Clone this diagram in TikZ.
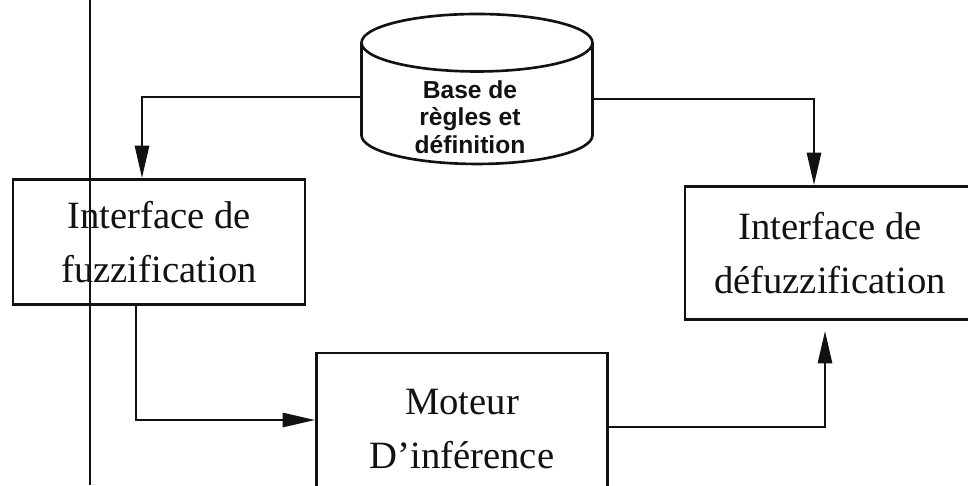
\documentclass[tikz,border=0pt]{standalone}
\usepackage{fontspec}
\setmainfont{Liberation Serif}
\newfontfamily\fzsans{Liberation Sans}
\usetikzlibrary{arrows.meta,positioning,shapes.geometric}
\definecolor{FzInk}{RGB}{18,18,18}
\tikzset{
  fz/box/.style={
    draw=FzInk,
    line width=1.5pt,
    fill=white,
    align=center,
    text=FzInk,
    inner sep=0pt,
    font=\fontsize{22}{31}\selectfont
  },
  fz/db/.style={
    cylinder,
    shape border rotate=90,
    aspect=0.5,
    draw=FzInk,
    line width=1.5pt,
    fill=white,
    inner sep=0pt,
    minimum height=3cm,
    minimum width=4.62cm
  },
  fz/dbtext/.style={
    align=center,
    text=FzInk,
    inner sep=0pt,
    font=\fzsans\bfseries\fontsize{14}{15.5}\selectfont
  },
  fz/arrow/.style={-{Triangle[length=6.5mm,width=2.8mm]}, line width=1.6pt, draw=FzInk},
  fz/scan/.style={line width=1.1pt, draw=FzInk}
}

\begin{document}
\begin{tikzpicture}[x=0.02cm,y=-0.02cm]
  \useasboundingbox (0,0) rectangle (968,485);
  \node[fz/db] (rules) at (477,104) {\hspace*{2.3cm}};
  \node[fz/dbtext] (rulestext) at (470,117) {Base de\\règles et\\définition};
  \node[fz/box,minimum width=5.84cm,minimum height=2.5cm] (fuzz) at (159,242) {Interface de\\fuzzification};
  \node[fz/box,minimum width=5.8cm,minimum height=2.66cm] (defuzz) at (830,253) {Interface de\\défuzzification};
  \node[fz/box,minimum width=5.82cm,minimum height=3.04cm] (engine) at (462,429) {Moteur\\D’inférence};
  \draw[fz/arrow] ([yshift=0.14cm]rules.west) -| ([xshift=-0.34cm]fuzz.north);
  \draw[fz/arrow] ([yshift=0.1cm]rules.east) -| ([xshift=-0.32cm]defuzz.north);
  \draw[fz/arrow] ([xshift=-0.46cm]fuzz.south) |- ([yshift=0.18cm]engine.west);
  \draw[fz/arrow,shorten >=0.2cm] ([yshift=0.04cm]engine.east) -| ([xshift=-0.1cm]defuzz.south);
  % vertical rule across the scan
  \coordinate (scantop) at (90,0);
  \coordinate (scanbot) at (90,485);
  \draw[fz/scan] (scantop) -- (scanbot);
\end{tikzpicture}
\end{document}
